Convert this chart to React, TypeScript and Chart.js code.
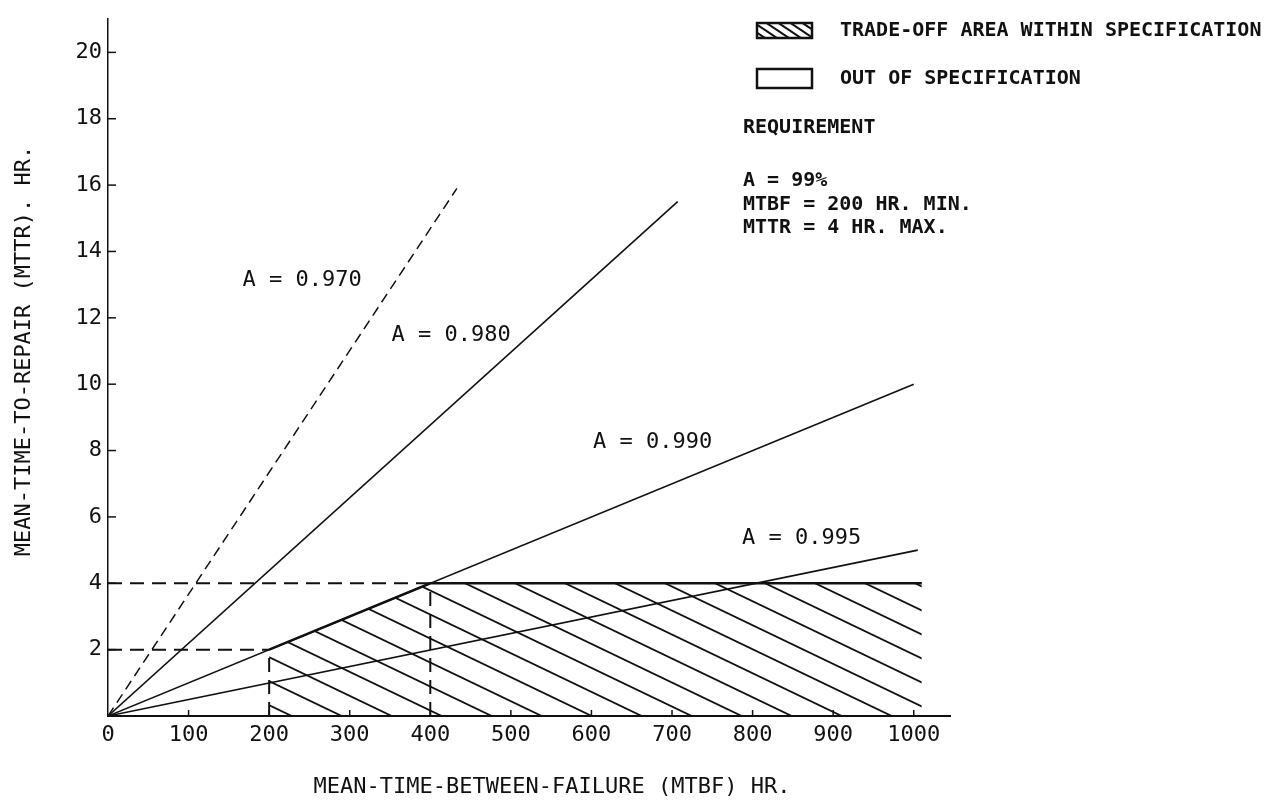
import React, { useEffect, useRef } from "react";
import { Chart, registerables } from "chart.js";

Chart.register(...registerables);

// ---------- data ----------
const xTickValues = [0, 100, 200, 300, 400, 500, 600, 700, 800, 900, 1000];
const yTickValues = [2, 4, 6, 8, 10, 12, 14, 16, 18, 20];

// availability lines (MTBF hr, MTTR hr)
const line970 = [
  { x: 0, y: 0 },
  { x: 433, y: 15.9 },
];
const line980 = [
  { x: 0, y: 0 },
  { x: 707, y: 15.5 },
];
const line990 = [
  { x: 0, y: 0 },
  { x: 1000, y: 10.0 },
];
const line995 = [
  { x: 0, y: 0 },
  { x: 1005, y: 5.0 },
];

// requirement guide lines
const mttr4Guide = [
  { x: 0, y: 4 },
  { x: 400, y: 4 },
];
const mttr2Guide = [
  { x: 0, y: 2 },
  { x: 200, y: 2 },
];
const mtbf200Guide = [
  { x: 200, y: 0 },
  { x: 200, y: 2 },
];
const mtbf400Guide = [
  { x: 400, y: 0 },
  { x: 400, y: 4 },
];

// upper boundary of the trade-off area within specification
const tradeOffBoundary = [
  { x: 200, y: 2 },
  { x: 400, y: 4 },
  { x: 1010, y: 4 },
];

const curveLabels = ["A = 0.970", "A = 0.980", "A = 0.990", "A = 0.995"];
const legendLabels = ["TRADE-OFF AREA WITHIN SPECIFICATION", "OUT OF SPECIFICATION"];
const requirementLines = ["REQUIREMENT", "A = 99%", "MTBF = 200 HR. MIN.", "MTTR = 4 HR. MAX."];
const xTitle = "MEAN-TIME-BETWEEN-FAILURE (MTBF) HR.";
const yTitle = "MEAN-TIME-TO-REPAIR (MTTR). HR.";

// ---------- styling / layout ----------
const FONT = "'DejaVu Sans Mono', 'Liberation Mono', monospace";
const INK = "#111";

// label anchors in data coordinates (left edge, vertical middle)
const curveLabelAnchors = [
  { x: 167, y: 13.14 },
  { x: 352, y: 11.48 },
  { x: 602, y: 8.25 },
  { x: 787, y: 5.36 },
];

function makeHatch(w: number, h: number, lw: number): CanvasPattern {
  const c = document.createElement("canvas");
  c.width = w;
  c.height = h;
  const g = c.getContext("2d")!;
  g.strokeStyle = INK;
  g.lineWidth = lw;
  for (const k of [-1, 0, 1]) {
    g.beginPath();
    g.moveTo(-w, -h + k * h);
    g.lineTo(2 * w, 2 * h + k * h);
    g.stroke();
  }
  return g.createPattern(c, "repeat")!;
}

const overlayPlugin = {
  id: "overlay",
  afterDraw(chart: any) {
    const { ctx, chartArea } = chart;
    const xs = chart.scales.x;
    const ys = chart.scales.y;
    ctx.save();

    // inward tick marks
    ctx.strokeStyle = INK;
    ctx.lineWidth = 1.5;
    for (const v of xTickValues) {
      if (v === 0) continue;
      const px = xs.getPixelForValue(v);
      ctx.beginPath();
      ctx.moveTo(px, chartArea.bottom + 1);
      ctx.lineTo(px, chartArea.bottom - 6);
      ctx.stroke();
    }
    for (const v of yTickValues) {
      const py = ys.getPixelForValue(v);
      ctx.beginPath();
      ctx.moveTo(chartArea.left, py);
      ctx.lineTo(chartArea.left + 8, py);
      ctx.stroke();
    }

    // curve labels
    ctx.fillStyle = INK;
    ctx.font = `22px ${FONT}`;
    ctx.textAlign = "left";
    ctx.textBaseline = "middle";
    curveLabels.forEach((t, i) => {
      const a = curveLabelAnchors[i];
      ctx.fillText(t, xs.getPixelForValue(a.x), ys.getPixelForValue(a.y));
    });

    // axis titles
    ctx.textAlign = "center";
    ctx.fillText(xTitle, chartArea.left + 444, 787);
    ctx.save();
    ctx.translate(24, 351);
    ctx.rotate(-Math.PI / 2);
    ctx.fillText(yTitle, 0, 0);
    ctx.restore();

    // legend
    const bx = 757;
    ctx.save();
    ctx.beginPath();
    ctx.rect(bx, 23, 55, 15);
    ctx.clip();
    ctx.fillStyle = makeHatch(12, 8, 2);
    ctx.fillRect(bx, 23, 55, 15);
    ctx.restore();
    ctx.lineWidth = 2.5;
    ctx.strokeStyle = INK;
    ctx.strokeRect(bx, 23, 55, 15);
    ctx.strokeRect(bx, 69, 55, 19);

    ctx.fillStyle = INK;
    ctx.font = `bold 20px ${FONT}`;
    ctx.textAlign = "left";
    ctx.fillText(legendLabels[0], 840, 31);
    ctx.fillText(legendLabels[1], 840, 79);

    const reqY = [128, 181, 205, 228];
    requirementLines.forEach((t, i) => ctx.fillText(t, 743, reqY[i]));

    ctx.restore();
  },
};

export default function App() {
  const canvasRef = useRef<HTMLCanvasElement | null>(null);

  useEffect(() => {
    document.body.style.margin = "0";
    const canvas = canvasRef.current;
    if (!canvas) return;

    const hatch = makeHatch(50, 24, 1.8);
    const guide = {
      borderColor: INK,
      borderWidth: 2,
      borderDash: [14, 8],
      pointRadius: 0,
      fill: false,
    };
    const solid = {
      borderColor: INK,
      borderWidth: 1.6,
      pointRadius: 0,
      fill: false,
    };

    const chart = new Chart(canvas, {
      type: "line",
      data: {
        datasets: [
          { label: "A = 0.970", data: line970, ...solid, borderDash: [10, 6], borderWidth: 1.5 },
          { label: "A = 0.980", data: line980, ...solid },
          { label: "A = 0.990", data: line990, ...solid },
          { label: "A = 0.995", data: line995, ...solid },
          { label: "MTTR 4 hr", data: mttr4Guide, ...guide },
          { label: "MTTR 2 hr", data: mttr2Guide, ...guide },
          { label: "MTBF 200 hr", data: mtbf200Guide, ...guide },
          { label: "MTBF 400 hr", data: mtbf400Guide, ...guide },
          {
            label: "Trade-off area within specification",
            data: tradeOffBoundary,
            borderColor: INK,
            borderWidth: 2.5,
            pointRadius: 0,
            fill: "origin",
            backgroundColor: hatch,
            order: 10,
          },
        ] as any,
      },
      options: {
        animation: false,
        responsive: true,
        maintainAspectRatio: false,
        layout: { padding: { left: 0, right: 329, top: 6, bottom: 0 } },
        elements: { line: { tension: 0 } },
        plugins: {
          legend: { display: false },
          tooltip: { enabled: false },
        },
        scales: {
          x: {
            type: "linear",
            min: 0,
            max: 1045,
            afterBuildTicks: (s: any) => {
              s.ticks = xTickValues.map((v) => ({ value: v }));
            },
            afterFit: (s: any) => {
              s.height = 86;
            },
            grid: { display: false, drawTicks: false },
            border: { display: true, color: INK, width: 2 },
            ticks: {
              padding: 6,
              maxRotation: 0,
              autoSkip: false,
              color: INK,
              font: { family: FONT, size: 22 },
              callback: (v: any) => String(v),
            },
          },
          y: {
            type: "linear",
            min: 0,
            max: 21,
            afterBuildTicks: (s: any) => {
              s.ticks = yTickValues.map((v) => ({ value: v }));
            },
            afterFit: (s: any) => {
              s.width = 108;
            },
            grid: { display: false, drawTicks: false },
            border: { display: true, color: INK, width: 1.5 },
            ticks: {
              padding: 6,
              autoSkip: false,
              color: INK,
              font: { family: FONT, size: 22 },
              callback: (v: any) => String(v),
            },
          },
        },
      } as any,
      plugins: [overlayPlugin],
    });

    return () => chart.destroy();
  }, []);

  return (
    <div style={{ position: "relative", width: 1279, height: 802 }}>
      <canvas ref={canvasRef} />
    </div>
  );
}
